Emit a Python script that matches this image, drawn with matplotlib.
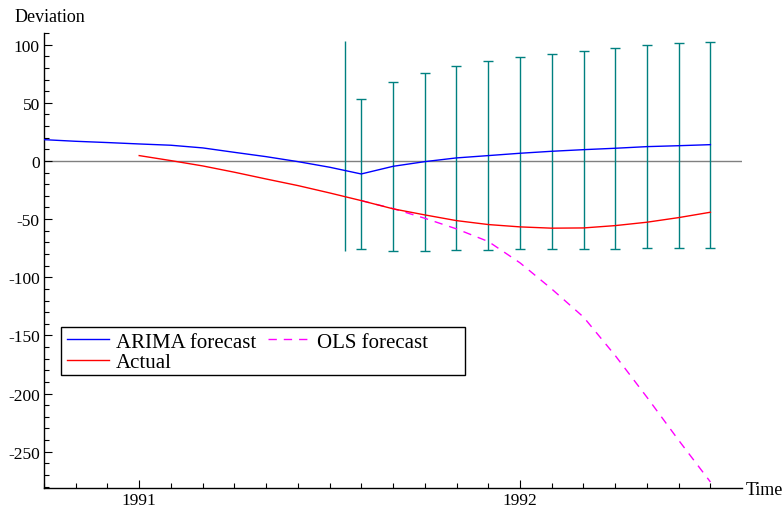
import numpy as np
import matplotlib
matplotlib.use("Agg")
import matplotlib.pyplot as plt
from matplotlib.ticker import MultipleLocator, FixedLocator
from matplotlib.patches import Rectangle

plt.rcParams['font.family'] = ['Liberation Serif', 'DejaVu Serif']
plt.rcParams['axes.unicode_minus'] = False

# monthly time axis, decimal years
t_arima = [1990.75, 1990.833, 1990.917, 1991.0, 1991.083, 1991.167, 1991.25,
           1991.333, 1991.417, 1991.5, 1991.583, 1991.667, 1991.75, 1991.833,
           1991.917, 1992.0, 1992.083, 1992.167, 1992.25, 1992.333, 1992.417, 1992.5]
arima = [18.3, 16.9, 15.8, 14.6, 13.5, 11.2, 7.4, 3.7, -0.6, -5.4, -11.2,
         -4.6, -0.6, 2.6, 4.6, 6.6, 8.3, 9.7, 10.9, 12.3, 13.1, 14.0]

t_actual = [1991.0, 1991.083, 1991.167, 1991.25, 1991.333, 1991.417, 1991.5,
            1991.583, 1991.667, 1991.75, 1991.833, 1991.917, 1992.0, 1992.083,
            1992.167, 1992.25, 1992.333, 1992.417, 1992.5]
actual = [4.6, 0.3, -4.3, -9.7, -15.5, -21.2, -27.5, -34.1, -41.2, -46.4,
          -51.3, -54.7, -56.7, -57.8, -57.6, -55.6, -52.7, -48.7, -44.1]

t_ols = [1991.583, 1991.667, 1991.75, 1991.833, 1991.917, 1992.0, 1992.083,
         1992.167, 1992.25, 1992.333, 1992.417, 1992.5]
ols = [-34.1, -41.0, -49.3, -58.4, -69.3, -87.6, -110.0, -134.3, -167.3,
       -203.0, -240.3, -276.0]

# forecast bands around the ARIMA forecast
t_band = t_ols
band = [64.8, 72.7, 76.6, 79.2, 81.2, 82.7, 84.0, 85.2, 86.2, 87.2, 87.9, 88.5]
fc_start = 1991.5417
fc_start_lo, fc_start_hi = -77.4, 102.9

fig = plt.figure(figsize=(7.84, 5.10), dpi=100)
ax = fig.add_axes([44/784, 1-489/510, (742-44)/784, (489-34)/510])

ax.axhline(0, color='#808080', lw=1, zorder=1)

fc = np.array(arima[-len(t_band):])
ax.errorbar(t_band, fc, yerr=band, fmt='none', ecolor='#008080',
            elinewidth=1, capsize=3.6, capthick=1, zorder=2)
ax.vlines(fc_start, fc_start_lo, fc_start_hi, color='#008080', lw=1, zorder=2)

ax.plot(t_arima, arima, color='#0000ff', lw=1, label='ARIMA forecast', zorder=3)
ax.plot(t_ols, ols, color='#ff00ff', lw=1, ls=(0, (6, 5)), label='OLS forecast', zorder=3)
ax.plot(t_actual, actual, color='#ff0000', lw=1, label='Actual', zorder=4)

ax.set_xlim(1990.75, 1992.583)
ax.set_ylim(-281.2, 110)

for s in ['top', 'right']:
    ax.spines[s].set_visible(False)
for s in ['left', 'bottom']:
    ax.spines[s].set_linewidth(1)

ax.xaxis.set_major_locator(FixedLocator([1991, 1992]))
ax.xaxis.set_minor_locator(MultipleLocator(1/12))
ax.set_xticklabels(['1991', '1992'])
ax.yaxis.set_major_locator(MultipleLocator(50))
ax.yaxis.set_minor_locator(MultipleLocator(10))
ax.tick_params(which='both', direction='in', labelsize=12.5, width=0.8)
ax.tick_params(which='major', length=6, pad=3)
ax.tick_params(which='minor', length=3.5)

fig.text(15/784, 1-17/510, 'Deviation', fontsize=13, va='center', ha='left')
fig.text(746/784, 1-491/510, 'Time', fontsize=13, va='center', ha='left')

# legend box drawn separately so it can be wider than its entries
ax.add_patch(Rectangle((61/784, 1-376/510), (465-61)/784, (376-328)/510,
                       transform=fig.transFigure, facecolor='white',
                       edgecolor='black', lw=1, zorder=5, clip_on=False))
h, l = ax.get_legend_handles_labels()
order = [0, 2, 1]
leg = ax.legend([h[i] for i in order], [l[i] for i in order], ncol=2,
                loc='upper left', bbox_to_anchor=((63-44)/698, (489-329)/455),
                fontsize=15, frameon=False, handlelength=2.0,
                handletextpad=0.35, columnspacing=0.55, labelspacing=0.05,
                borderpad=0.2, borderaxespad=0)
leg.set_zorder(6)

fig.savefig('out.png', dpi=100)
